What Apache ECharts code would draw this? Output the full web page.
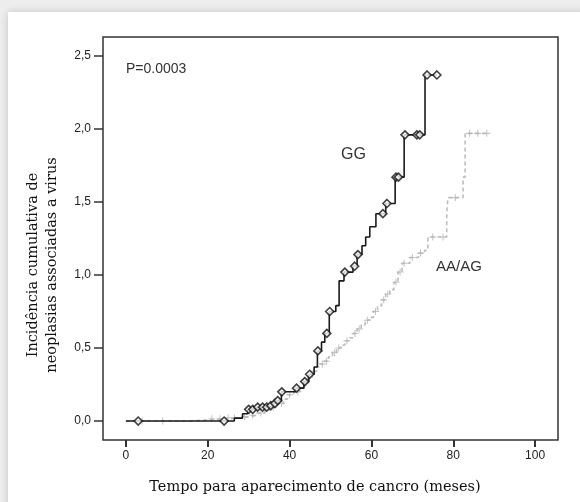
<!DOCTYPE html>
<html>
<head>
<meta charset="utf-8">
<script src="https://cdn.jsdelivr.net/npm/echarts@6/dist/echarts.min.js"></script>
<style>
  html, body { margin: 0; padding: 0; background: #eeeeee; }
  #panel { position: absolute; left: 8px; top: 12px; width: 580px; height: 500px;
           background: #ffffff; box-shadow: 0 0 8px rgba(0,0,0,0.18); }
  #chart { position: absolute; left: 0; top: 0; width: 580px; height: 502px; }
</style>
</head>
<body>
<div id="panel"></div>
<div id="chart"></div>
<script>
// Kaplan-Meier style cumulative incidence, GG genotype (time in months, level after event)
const ggTimes  = [0, 26.5, 28.5, 29.8, 32, 35, 36, 37, 38, 41.5, 43.5, 44.7, 46, 46.8, 47.8, 48.6, 49.7, 51.3, 52.1, 53.3, 55.5, 56.5, 57.7, 58.6, 59.6, 61.1, 63.5, 65.8, 68, 73.1];
const ggLevels = [0, 0.02, 0.05, 0.08, 0.095, 0.105, 0.12, 0.14, 0.2, 0.225, 0.27, 0.32, 0.37, 0.48, 0.54, 0.6, 0.75, 0.79, 0.96, 1.02, 1.06, 1.14, 1.2, 1.26, 1.33, 1.42, 1.49, 1.67, 1.96, 2.37];
const ggEnd = 76;
const ggCensored = [3, 24, 30, 31, 32.2, 33.4, 34.4, 35.4, 36.4, 37.1, 38.1, 41.7, 43.7, 44.9, 46.9, 49.1, 49.8, 53.5, 55.9, 56.7, 62.8, 63.8, 66, 66.6, 68.2, 71.1, 71.8, 73.6, 76];

// AA/AG genotypes
const aaTimes  = [0, 16, 20, 24, 28, 30, 32, 34, 35.5, 37, 38.5, 39.5, 41, 42.5, 43.5, 44.5, 45.5, 46.5, 47.5, 48.5, 49.5, 50.5, 51.5, 52.5, 53.5, 54.5, 55.5, 56.5, 57.5, 58.5, 59.5, 60.5, 61.5, 62.5, 63.5, 64.5, 65.5, 66.5, 67.5, 69.4, 71.5, 73, 73.8, 78.4, 78.7, 82.4, 82.9];
const aaLevels = [0, 0.008, 0.015, 0.022, 0.03, 0.04, 0.055, 0.075, 0.095, 0.12, 0.15, 0.18, 0.2, 0.23, 0.26, 0.3, 0.34, 0.37, 0.39, 0.41, 0.44, 0.47, 0.5, 0.52, 0.55, 0.57, 0.6, 0.63, 0.66, 0.69, 0.71, 0.75, 0.79, 0.83, 0.87, 0.9, 0.95, 1.02, 1.08, 1.12, 1.15, 1.17, 1.26, 1.42, 1.53, 1.67, 1.97];
const aaEnd = 88.2;
const aaCensored = [4, 9, 21, 23, 25, 26.5, 29, 31, 33, 36, 38, 40, 42, 44, 46, 48, 49, 51, 52, 54, 56, 57, 59, 61, 63, 64, 66, 67, 68, 70, 72, 75, 77.5, 80.5, 84, 86, 88.2];

const xTicks = [0, 20, 40, 60, 80, 100];
const yTicks = [0, 0.5, 1.0, 1.5, 2.0, 2.5];

function levelAt(times, levels, t) {
  let v = levels[0];
  for (let i = 0; i < times.length; i++) { if (times[i] <= t) v = levels[i]; }
  return v;
}
function stepData(times, levels, end) {
  const d = times.map((t, i) => [t, levels[i]]);
  d.push([end, levels[levels.length - 1]]);
  return d;
}
function censorData(times, levels, cens) {
  return cens.map(t => [t, levelAt(times, levels, t)]);
}

const chart = echarts.init(document.getElementById('chart'));
const plus = 'path://M-0.6,-4h1.2v8h-1.2zM-4,-0.6h8v1.2h-8z';
const tickFont = 'Liberation Sans, Arial, sans-serif';
const titleFont = '14.5px "DejaVu Serif", "Liberation Serif", serif';

chart.setOption({
  animation: false,
  grid: { left: 103, top: 37, right: 22, bottom: 62, show: true,
          borderColor: '#333', borderWidth: 1.5, backgroundColor: 'transparent' },
  xAxis: {
    type: 'value', min: -5.6, max: 105.6,
    axisLine: { show: false, onZero: false },
    splitLine: { show: false },
    axisTick: { show: true, customValues: xTicks, length: 7, lineStyle: { color: '#333', width: 2 } },
    axisLabel: { customValues: xTicks, margin: 10, color: '#222', fontSize: 12, fontFamily: tickFont }
  },
  yAxis: {
    type: 'value', min: -0.13, max: 2.63,
    axisLine: { show: false, onZero: false },
    splitLine: { show: false },
    axisTick: { show: true, customValues: yTicks, length: 9, lineStyle: { color: '#333', width: 1.5 } },
    axisLabel: { customValues: yTicks, margin: 12, color: '#222', fontSize: 12, fontFamily: tickFont,
                 formatter: v => v.toFixed(1).replace('.', ',') }
  },
  graphic: [
    { type: 'text', left: 126, top: 62,
      style: { text: 'P=0.0003', fill: '#333', font: '14px "Liberation Sans", Arial, sans-serif' } },
    { type: 'text', left: 341, top: 147,
      style: { text: 'GG', fill: '#333', font: '16px "Liberation Sans", Arial, sans-serif' } },
    { type: 'text', left: 436, top: 259,
      style: { text: 'AA/AG', fill: '#333', font: '15px "Liberation Sans", Arial, sans-serif' } },
    { type: 'text', x: 43, y: 265, rotation: Math.PI / 2,
      style: { text: 'Incidência cumulativa de\nneoplasias associadas a virus', fill: '#111',
               font: titleFont, lineHeight: 19, align: 'center', verticalAlign: 'middle' } },
    { type: 'text', x: 315, y: 487,
      style: { text: 'Tempo para aparecimento de cancro (meses)', fill: '#111',
               font: titleFont, align: 'center', verticalAlign: 'middle' } }
  ],
  series: [
    { type: 'line', step: 'end', data: stepData(aaTimes, aaLevels, aaEnd), showSymbol: false,
      lineStyle: { color: '#bdbdbd', width: 1.6, type: [4, 3] }, z: 2 },
    { type: 'scatter', data: censorData(aaTimes, aaLevels, aaCensored), symbol: plus, symbolSize: 7,
      itemStyle: { color: '#b5b5b5' }, z: 3 },
    { type: 'line', step: 'end', data: stepData(ggTimes, ggLevels, ggEnd), showSymbol: false,
      lineStyle: { color: '#1a1a1a', width: 1.6 }, z: 4 },
    { type: 'scatter', data: censorData(ggTimes, ggLevels, ggCensored), symbol: 'diamond', symbolSize: 8,
      itemStyle: { color: '#ffffff', borderColor: '#111', borderWidth: 1.6 }, z: 5 }
  ]
});
</script>
</body>
</html>
